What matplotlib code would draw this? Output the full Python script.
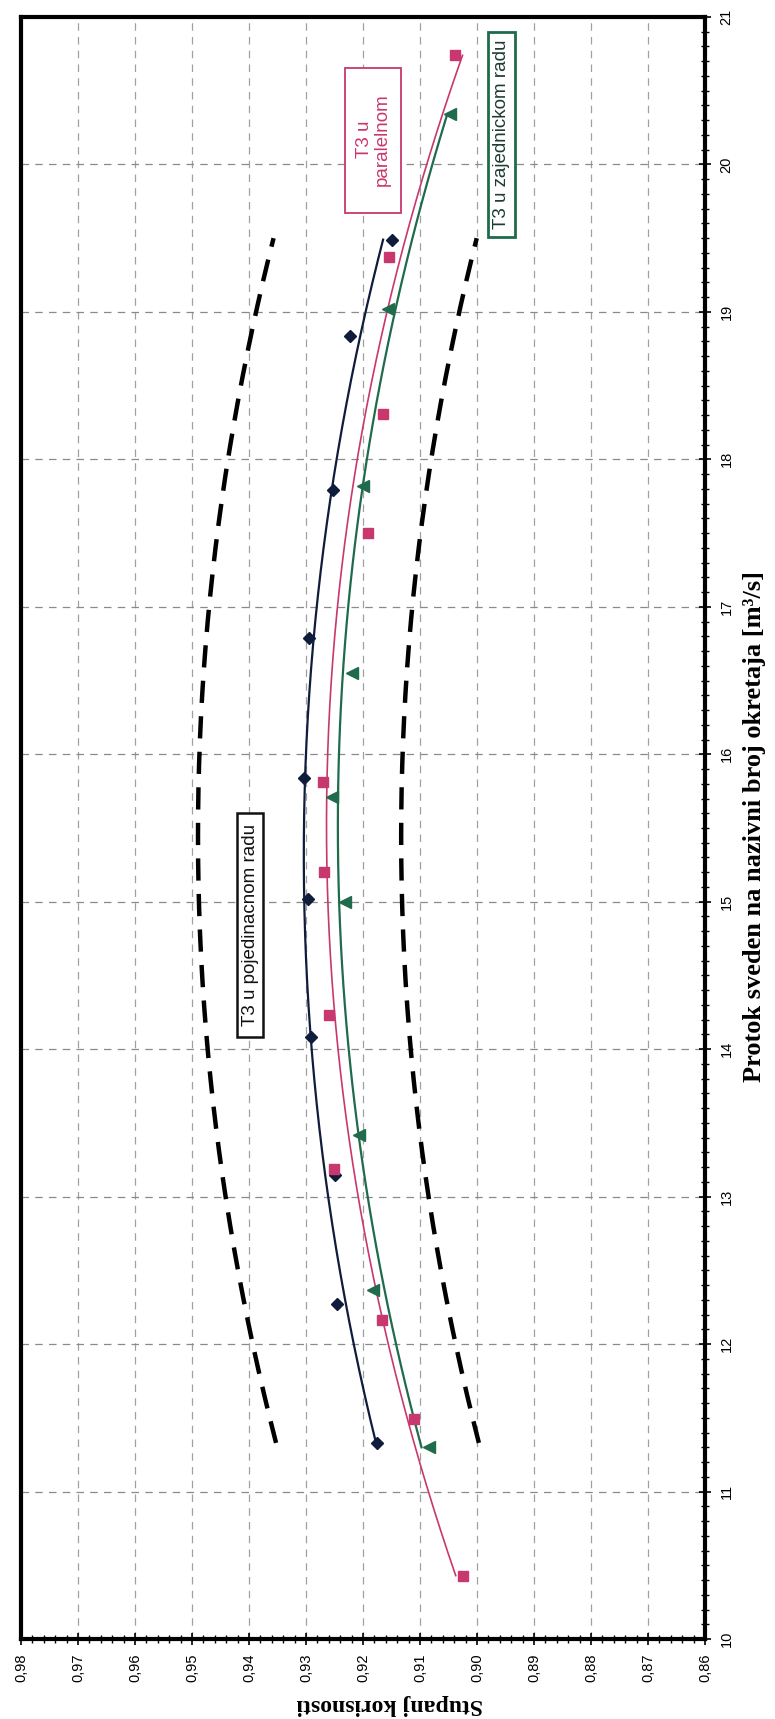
import numpy as np
import matplotlib
matplotlib.use("Agg")
import matplotlib.pyplot as plt
from matplotlib.ticker import MultipleLocator, FixedLocator
from matplotlib.patches import Rectangle

# ---- data (flow Q [m3/s], efficiency) ----
q_single = [11.33, 12.27, 13.15, 14.08, 15.02, 15.84, 16.79, 17.79, 18.84, 19.49]
eta_single = [0.9176, 0.9245, 0.9250, 0.9292, 0.9297, 0.9303, 0.9294, 0.9252, 0.9222, 0.9150]

q_parallel = [10.43, 11.49, 12.16, 13.19, 14.23, 15.20, 15.81, 17.50, 18.31, 19.37, 20.74]
eta_parallel = [0.9025, 0.9110, 0.9167, 0.9251, 0.9260, 0.9269, 0.9270, 0.9191, 0.9165, 0.9155, 0.9039]

q_joint = [11.30, 12.37, 13.42, 15.00, 15.71, 16.55, 17.82, 19.02, 20.34]
eta_joint = [0.9085, 0.9183, 0.9207, 0.9232, 0.9254, 0.9220, 0.9200, 0.9156, 0.9047]

q_band = [11.33, 12.0, 13.0, 14.0, 15.0, 16.0, 17.0, 18.0, 19.0, 19.5]
eta_band_upper = [0.9355, 0.9395, 0.9438, 0.9468, 0.9485, 0.9490, 0.9475, 0.9440, 0.9385, 0.9355]
eta_band_lower = [0.8998, 0.9040, 0.9083, 0.9112, 0.9128, 0.9132, 0.9118, 0.9085, 0.9030, 0.8997]

eta_ticks = [0.86, 0.87, 0.88, 0.89, 0.90, 0.91, 0.92, 0.93, 0.94, 0.95, 0.96, 0.97, 0.98]
eta_ticklabels = ["0,86", "0,87", "0,88", "0,89", "0,90", "0,91", "0,92", "0,93",
                  "0,94", "0,95", "0,96", "0,97", "0,98"]
q_ticks = list(range(10, 22))

c_single = "#0f1c3c"
c_parallel = "#c8386e"
c_joint = "#1f6b4c"

fig = plt.figure(figsize=(7.75, 17.19), dpi=100)
ax = fig.add_axes([21 / 775, 80 / 1719, 684 / 775, 1622 / 1719])

ax.set_xlim(0.98, 0.86)
ax.set_ylim(10, 21)

# grid
for e in eta_ticks:
    ax.axvline(e, color="#a0a0a0", lw=0.9, ls=(0, (6, 5)), zorder=0)
for q in q_ticks:
    ax.axhline(q, color="#8a8a8a", lw=0.9, ls=(0, (6, 5)), zorder=0)

# trendlines (quadratic fits of the scatter data)
def trend(q, e, color, lw):
    p = np.polyfit(q, e, 2)
    qq = np.linspace(min(q), max(q), 200)
    ax.plot(np.polyval(p, qq), qq, color=color, lw=lw, zorder=2)

trend(q_single, eta_single, c_single, 1.6)
trend(q_parallel, eta_parallel, c_parallel, 1.2)
trend(q_joint, eta_joint, c_joint, 1.6)

# band curves
bq = np.linspace(min(q_band), max(q_band), 200)
for band in (eta_band_upper, eta_band_lower):
    pb = np.polyfit(q_band, band, 2)
    ax.plot(np.polyval(pb, bq), bq, color="black", lw=3.2, ls=(0, (5, 3)), zorder=2)

# markers
ax.plot(eta_single, q_single, ls="none", marker="D", ms=6.5, color=c_single, zorder=3)
ax.plot(eta_parallel, q_parallel, ls="none", marker="s", ms=7.5, color=c_parallel, zorder=3)
ax.plot(eta_joint, q_joint, ls="none", marker="<", ms=8, color=c_joint, zorder=3)

# text boxes
def box(x0, x1, y0, y1, ec, lw):
    ax.add_patch(Rectangle((min(x0, x1), min(y0, y1)), abs(x1 - x0), abs(y1 - y0),
                           fc="white", ec=ec, lw=lw, zorder=4))

box(0.92316, 0.91333, 19.671, 20.654, c_parallel, 1.3)
ax.text(0.9182, 20.17, "T3 u\nparalelnom", rotation=90, ha="center", va="center",
        fontsize=13.5, color=c_parallel, family="Liberation Sans", linespacing=1.05,
        zorder=5)
box(0.89807, 0.89333, 19.508, 20.898, c_joint, 2.0)
ax.text(0.8957, 20.207, "T3 u zajednickom radu", rotation=90, ha="center", va="center",
        fontsize=13.5, color="#1d3b30", family="Liberation Sans", zorder=5)
box(0.94211, 0.93754, 14.085, 15.603, "#111111", 1.8)
ax.text(0.93982, 14.844, "T3 u pojedinacnom radu", rotation=90, ha="center", va="center",
        fontsize=13.5, color="#111111", family="Liberation Sans", zorder=5)

# axes styling
for s in ax.spines.values():
    s.set_linewidth(3)
    s.set_color("black")

ax.xaxis.set_major_locator(FixedLocator(eta_ticks))
ax.set_xticklabels(eta_ticklabels, rotation=90, family="Liberation Sans", fontsize=10.5)
ax.xaxis.set_minor_locator(MultipleLocator(0.002))
ax.yaxis.tick_right()
ax.yaxis.set_major_locator(FixedLocator(q_ticks))
ax.set_yticklabels([str(q) for q in q_ticks], rotation=90, va="center",
                   family="Liberation Sans", fontsize=10.5)
ax.yaxis.set_minor_locator(MultipleLocator(0.1))
ax.tick_params(which="major", direction="inout", length=9, width=1.2, pad=6)
ax.tick_params(which="minor", direction="inout", length=6, width=1.0)
ax.tick_params(axis="y", which="both", left=False, right=True)
ax.tick_params(axis="x", which="both", top=False, bottom=True)

fig.text(755 / 775, 1 - 826 / 1719, "Protok sveden na nazivni broj okretaja [m\u00b3/s]",
         rotation=90, ha="center", va="center", family="Liberation Serif",
         fontweight="bold", fontsize=19)
fig.text(390 / 775, 1 - 1704 / 1719, "Stupanj korisnosti", rotation=180,
         ha="center", va="center", family="Liberation Serif", fontweight="bold", fontsize=17)

fig.savefig("out.png", dpi=100, facecolor="white")
